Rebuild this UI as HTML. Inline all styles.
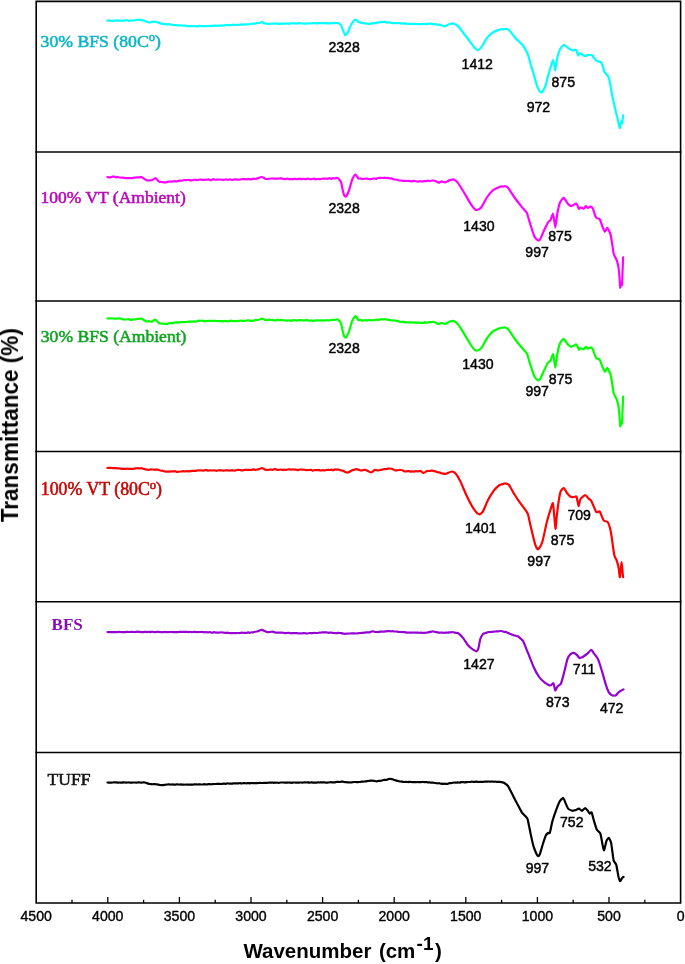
<!DOCTYPE html>
<html><head><meta charset="utf-8"><title>FTIR</title>
<style>
html,body{margin:0;padding:0;background:#fff;}
body{width:685px;height:964px;overflow:hidden;font-family:"Liberation Sans",sans-serif;}
svg{display:block;}
.pk{font-family:"Liberation Sans",sans-serif;font-size:14.1px;fill:#000;text-anchor:middle;stroke:#000;stroke-width:0.45px;}
.tk{font-family:"Liberation Sans",sans-serif;font-size:14.1px;fill:#000;text-anchor:middle;stroke:#000;stroke-width:0.4px;}
.sr{font-family:"Liberation Serif",serif;}
.ax{font-family:"Liberation Sans",sans-serif;font-weight:bold;fill:#000;}
</style></head><body>
<svg width="685" height="964" viewBox="0 0 685 964">
<rect x="0" y="0" width="685" height="964" fill="#ffffff"/>

<g stroke="#000" stroke-width="1.6" fill="none" stroke-linecap="square">
<path d="M36.2,1.4 H680.6 V903.0 H36.2 Z"/>
<path d="M36.2,152.0 H680.6"/>
<path d="M36.2,301.0 H680.6"/>
<path d="M36.2,451.5 H680.6"/>
<path d="M36.2,601.8 H680.6"/>
<path d="M36.2,752.5 H680.6"/>
</g>
<g stroke="#000" stroke-width="1.3" fill="none">
<path d="M644.8,903.0 V899.8"/>
<path d="M609.0,903.0 V897.0"/>
<path d="M573.2,903.0 V899.8"/>
<path d="M537.4,903.0 V897.0"/>
<path d="M501.6,903.0 V899.8"/>
<path d="M465.8,903.0 V897.0"/>
<path d="M430.0,903.0 V899.8"/>
<path d="M394.2,903.0 V897.0"/>
<path d="M358.4,903.0 V899.8"/>
<path d="M322.6,903.0 V897.0"/>
<path d="M286.8,903.0 V899.8"/>
<path d="M251.0,903.0 V897.0"/>
<path d="M215.2,903.0 V899.8"/>
<path d="M179.4,903.0 V897.0"/>
<path d="M143.6,903.0 V899.8"/>
<path d="M107.8,903.0 V897.0"/>
<path d="M72.0,903.0 V899.8"/>
</g>
<g opacity="0.999">
<text class="tk" x="680.6" y="921.3">0</text>
<text class="tk" x="609.0" y="921.3">500</text>
<text class="tk" x="537.4" y="921.3">1000</text>
<text class="tk" x="465.8" y="921.3">1500</text>
<text class="tk" x="394.2" y="921.3">2000</text>
<text class="tk" x="322.6" y="921.3">2500</text>
<text class="tk" x="251.0" y="921.3">3000</text>
<text class="tk" x="179.4" y="921.3">3500</text>
<text class="tk" x="107.8" y="921.3">4000</text>
<text class="tk" x="36.2" y="921.3">4500</text>
<path d="M107.4,20.7C107.6,20.7 108.9,20.4 109.2,20.4C109.5,20.4 110.7,20.9 111.0,20.9C111.3,21.0 112.5,20.9 112.8,20.8C113.1,20.8 114.3,20.5 114.6,20.5C114.9,20.5 116.1,20.6 116.4,20.6C116.7,20.6 117.9,20.6 118.2,20.6C118.5,20.6 119.7,20.6 120.0,20.6C120.3,20.6 121.5,20.7 121.8,20.7C122.1,20.7 123.2,20.8 123.6,20.8C123.9,20.7 125.0,20.3 125.4,20.3C125.7,20.2 126.8,20.2 127.1,20.2C127.5,20.3 128.6,20.7 128.9,20.8C129.3,20.8 130.4,20.5 130.7,20.5C131.0,20.4 132.2,20.5 132.5,20.5C132.8,20.5 134.0,20.6 134.4,20.5C134.7,20.4 135.9,19.8 136.2,19.8C136.6,19.7 137.8,19.9 138.1,19.9C138.5,19.9 139.7,19.7 140.0,19.7C140.3,19.7 141.4,20.2 141.7,20.3C142.0,20.4 143.0,20.3 143.3,20.4C143.6,20.4 144.7,20.9 145.0,21.0C145.3,21.1 146.4,21.7 146.7,21.8C147.0,21.9 148.0,22.2 148.3,22.3C148.6,22.3 149.7,22.5 150.0,22.5C150.3,22.5 151.5,22.0 151.8,21.9C152.2,21.8 153.3,21.7 153.7,21.6C154.0,21.6 155.1,21.6 155.5,21.7C155.9,21.8 157.3,22.3 157.8,22.5C158.2,22.6 159.6,23.1 160.0,23.2C160.4,23.3 161.4,23.8 161.7,23.8C162.0,23.9 163.0,23.8 163.3,23.8C163.6,23.8 164.7,24.2 165.0,24.2C165.3,24.2 166.3,24.1 166.6,24.2C166.9,24.2 168.0,24.5 168.2,24.5C168.5,24.5 169.6,24.3 169.9,24.4C170.2,24.4 171.2,24.6 171.5,24.7C171.8,24.7 172.8,24.9 173.1,25.0C173.4,25.0 174.5,25.2 174.8,25.2C175.0,25.2 176.1,25.1 176.4,25.2C176.7,25.2 177.7,25.5 178.0,25.5C178.3,25.5 179.3,25.4 179.6,25.4C179.9,25.4 180.9,25.4 181.2,25.5C181.5,25.5 182.5,25.7 182.8,25.7C183.1,25.7 184.1,25.7 184.4,25.7C184.7,25.7 185.8,25.5 186.1,25.6C186.4,25.6 187.4,26.2 187.7,26.2C188.0,26.3 189.0,26.1 189.3,26.1C189.6,26.1 190.6,26.2 190.9,26.2C191.2,26.2 192.2,26.2 192.5,26.2C192.8,26.2 193.9,25.9 194.2,26.0C194.5,26.0 195.6,26.5 195.9,26.5C196.2,26.5 197.3,26.4 197.6,26.4C197.9,26.3 198.9,25.9 199.2,25.8C199.6,25.8 200.6,25.9 200.9,26.0C201.2,26.0 202.3,26.2 202.6,26.2C202.9,26.2 204.0,26.2 204.3,26.2C204.6,26.2 205.7,26.0 206.0,26.0C206.3,26.0 207.4,26.3 207.8,26.2C208.1,26.2 209.2,25.8 209.5,25.8C209.8,25.8 210.9,26.0 211.2,26.0C211.6,26.0 212.7,25.9 213.0,25.9C213.3,25.8 214.4,25.6 214.8,25.5C215.1,25.5 216.2,25.7 216.5,25.7C216.8,25.7 217.9,25.8 218.2,25.8C218.6,25.8 219.7,25.5 220.0,25.5C220.3,25.5 221.4,25.7 221.7,25.7C222.0,25.7 223.0,25.4 223.3,25.4C223.6,25.3 224.7,25.4 225.0,25.4C225.3,25.3 226.4,24.9 226.7,24.9C227.0,24.9 228.0,24.9 228.3,25.0C228.6,25.0 229.7,25.3 230.0,25.3C230.3,25.3 231.4,25.0 231.7,25.0C232.0,24.9 233.0,24.7 233.3,24.7C233.6,24.7 234.7,24.9 235.0,24.9C235.3,25.0 236.4,25.0 236.7,25.0C237.0,25.0 238.0,24.9 238.3,24.9C238.6,24.9 239.7,24.7 240.0,24.7C240.3,24.7 241.4,24.5 241.7,24.5C242.0,24.5 243.0,24.4 243.3,24.4C243.6,24.4 244.7,24.4 245.0,24.4C245.3,24.4 246.4,24.5 246.7,24.5C247.0,24.4 248.0,24.2 248.3,24.2C248.6,24.1 249.7,24.0 250.0,24.0C250.3,23.9 251.4,24.0 251.7,23.9C252.0,23.9 253.0,23.5 253.3,23.5C253.6,23.5 254.7,23.7 255.0,23.7C255.3,23.7 256.6,23.1 257.0,23.0C257.4,23.0 258.5,23.1 259.0,23.0C259.5,22.9 261.4,22.2 262.0,22.2C262.6,22.2 264.5,23.4 265.0,23.5C265.5,23.6 266.6,23.7 267.0,23.7C267.4,23.8 268.6,24.0 269.0,24.0C269.4,24.0 270.7,23.7 271.0,23.7C271.3,23.7 272.3,23.8 272.6,23.7C272.9,23.7 273.9,23.6 274.2,23.6C274.5,23.5 275.5,23.4 275.8,23.4C276.1,23.4 277.1,23.6 277.4,23.6C277.7,23.7 278.8,23.9 279.1,23.9C279.4,23.9 280.4,23.8 280.7,23.8C281.0,23.7 282.0,23.6 282.3,23.6C282.6,23.6 283.6,23.8 283.9,23.8C284.2,23.8 285.2,23.3 285.5,23.3C285.8,23.3 286.8,23.4 287.1,23.5C287.4,23.5 288.4,23.8 288.7,23.8C289.0,23.8 290.0,23.5 290.3,23.5C290.6,23.5 291.6,23.4 291.9,23.4C292.2,23.4 293.3,23.2 293.6,23.2C293.9,23.2 294.9,23.4 295.2,23.4C295.5,23.4 296.5,23.7 296.8,23.7C297.1,23.6 298.1,23.0 298.4,23.0C298.7,22.9 299.7,23.3 300.0,23.3C300.3,23.3 301.3,23.5 301.6,23.5C301.9,23.5 302.9,23.5 303.2,23.5C303.5,23.5 304.5,23.6 304.8,23.6C305.1,23.6 306.1,23.5 306.4,23.5C306.7,23.4 307.7,23.5 308.0,23.5C308.3,23.5 309.3,23.3 309.6,23.3C309.9,23.3 310.9,23.3 311.2,23.3C311.5,23.3 312.5,23.2 312.8,23.2C313.1,23.2 314.1,22.9 314.4,23.0C314.7,23.0 315.7,23.5 316.0,23.5C316.3,23.5 317.4,23.3 317.6,23.3C317.9,23.3 319.0,23.0 319.2,23.0C319.5,23.0 320.6,23.2 320.9,23.2C321.1,23.3 322.2,23.2 322.5,23.2C322.8,23.2 323.8,23.1 324.1,23.1C324.4,23.1 325.4,23.1 325.7,23.1C326.0,23.1 327.0,23.2 327.3,23.3C327.6,23.3 328.6,23.3 328.9,23.3C329.2,23.3 330.2,23.3 330.5,23.3C330.8,23.3 331.8,23.2 332.1,23.2C332.4,23.1 333.4,22.9 333.7,22.9C334.0,22.9 335.0,23.0 335.3,23.0C335.6,23.0 336.6,23.0 336.9,23.0C337.2,23.0 338.1,23.0 338.5,23.2C338.9,23.4 340.6,24.4 341.0,25.0C341.4,25.6 342.6,29.1 343.0,30.0C343.4,30.9 344.8,34.7 345.2,35.0C345.6,35.3 347.0,33.9 347.5,33.0C348.0,32.1 350.4,26.1 351.0,25.0C351.6,23.9 353.1,21.5 353.5,21.0C353.9,20.5 355.0,19.4 355.5,19.5C356.0,19.6 358.0,21.7 358.5,22.0C359.0,22.3 360.3,22.5 360.8,22.6C361.2,22.7 362.6,22.9 363.0,23.0C363.4,23.1 364.3,23.3 364.6,23.4C364.9,23.4 365.9,23.5 366.2,23.5C366.5,23.5 367.5,23.6 367.8,23.6C368.1,23.7 369.1,23.8 369.4,23.8C369.7,23.8 370.7,23.8 371.0,23.7C371.3,23.6 372.6,23.2 373.0,23.2C373.4,23.1 374.6,23.3 375.0,23.2C375.4,23.2 376.7,22.7 377.0,22.6C377.3,22.5 378.3,22.6 378.6,22.6C378.9,22.5 380.0,22.1 380.2,22.0C380.5,21.9 381.6,21.8 381.9,21.8C382.2,21.8 383.2,22.0 383.5,22.0C383.8,22.0 384.9,21.8 385.2,21.9C385.5,21.9 386.6,22.5 386.9,22.6C387.2,22.6 388.3,22.4 388.6,22.4C388.9,22.4 390.0,22.5 390.3,22.5C390.6,22.6 391.7,22.9 392.0,23.0C392.3,23.1 393.5,23.2 393.8,23.2C394.1,23.2 395.3,23.1 395.6,23.1C395.9,23.1 397.1,23.0 397.4,23.0C397.7,23.0 398.9,23.1 399.2,23.2C399.5,23.2 400.7,23.5 401.0,23.5C401.3,23.5 402.4,23.6 402.7,23.6C403.0,23.6 404.0,23.4 404.3,23.4C404.6,23.4 405.7,23.5 406.0,23.6C406.3,23.6 407.4,24.0 407.7,24.0C408.0,24.0 409.0,23.9 409.3,23.9C409.6,23.9 410.7,24.0 411.0,24.0C411.3,24.0 412.4,23.9 412.7,23.9C413.0,23.9 414.0,24.1 414.3,24.0C414.6,24.0 415.7,23.8 416.0,23.8C416.3,23.8 417.4,24.0 417.7,24.1C418.0,24.1 419.0,24.1 419.3,24.1C419.6,24.1 420.7,24.2 421.0,24.2C421.3,24.2 422.4,23.9 422.7,23.9C423.0,23.9 424.0,23.7 424.3,23.8C424.6,23.8 425.7,24.2 426.0,24.2C426.3,24.2 427.4,23.9 427.7,23.9C428.0,23.8 429.0,23.6 429.3,23.6C429.6,23.6 430.7,23.7 431.0,23.7C431.3,23.7 432.3,24.0 432.6,24.0C433.0,24.1 434.0,24.4 434.3,24.4C434.6,24.4 435.6,24.1 436.0,24.1C436.3,24.1 437.3,24.6 437.6,24.7C437.9,24.8 439.2,24.7 439.5,24.7C439.8,24.8 441.1,25.1 441.4,25.2C441.7,25.3 443.0,25.9 443.3,26.0C443.6,26.1 444.7,26.4 445.2,26.2C445.7,26.0 448.4,24.5 449.0,24.3C449.6,24.1 450.9,23.7 451.4,23.7C451.8,23.6 453.0,23.2 453.7,23.5C454.4,23.8 457.6,25.8 458.5,26.6C459.4,27.4 462.1,31.4 463.0,32.5C463.9,33.6 466.9,37.5 468.0,38.9C469.1,40.3 473.7,46.8 474.6,47.8C475.5,48.8 477.2,50.1 477.8,50.1C478.4,50.1 480.6,48.1 481.2,47.4C481.8,46.7 483.5,43.9 484.0,43.0C484.5,42.1 486.2,39.0 487.0,38.0C487.8,37.0 491.4,33.4 492.6,32.6C493.8,31.8 499.3,29.7 500.2,29.4C501.1,29.1 501.8,29.4 502.1,29.3C502.4,29.3 503.7,29.2 504.0,29.1C504.3,29.1 505.4,28.7 505.9,28.8C506.4,28.9 508.8,29.9 509.7,30.7C510.6,31.5 514.2,36.6 515.4,38.0C516.6,39.4 521.9,44.0 523.0,45.5C524.1,47.0 527.1,52.6 527.7,54.1C528.3,55.6 529.6,60.5 530.0,62.0C530.4,63.5 532.0,68.6 532.5,70.2C533.0,71.8 534.6,77.5 535.0,79.0C535.4,80.5 536.8,85.3 537.2,86.4C537.6,87.5 539.1,90.4 539.5,91.0C539.9,91.6 541.2,92.8 541.6,92.6C542.0,92.4 543.5,89.9 543.9,89.2C544.3,88.5 545.3,86.8 545.7,85.4C546.1,84.0 548.1,75.8 548.6,74.0C549.1,72.2 550.6,67.3 551.0,66.0C551.4,64.7 552.6,60.4 552.9,60.2C553.2,60.0 554.0,63.0 554.2,64.0C554.4,65.0 555.0,70.6 555.2,70.6C555.4,70.6 556.1,65.2 556.3,64.0C556.5,62.8 557.1,58.4 557.5,57.0C557.9,55.6 559.7,49.9 560.3,48.8C560.9,47.7 563.3,44.8 564.1,44.8C564.9,44.8 567.7,47.9 568.5,48.4C569.3,48.9 571.8,50.1 572.3,50.3C572.8,50.5 573.9,50.2 574.2,50.1C574.5,50.1 575.7,49.4 576.1,49.9C576.5,50.4 578.0,55.1 578.3,55.4C578.6,55.7 579.5,53.1 579.9,53.1C580.3,53.1 582.2,54.7 582.7,55.0C583.2,55.3 585.1,56.2 585.5,56.2C585.9,56.2 587.0,55.1 587.4,55.0C587.8,54.9 589.9,55.0 590.3,55.0C590.7,55.0 591.7,54.9 592.2,55.4C592.7,55.9 595.2,59.8 596.0,60.4C596.8,61.0 600.1,61.7 600.7,62.2C601.3,62.7 602.3,64.6 602.6,65.5C602.9,66.4 604.0,71.1 604.5,72.1C605.0,73.1 607.4,75.0 607.9,75.9C608.4,76.8 609.4,79.9 609.8,81.6C610.2,83.3 611.6,92.5 612.1,94.9C612.6,97.3 614.5,105.9 615.0,108.2C615.5,110.5 617.4,117.8 617.8,119.6C618.2,121.4 619.4,127.9 619.7,128.1C620.0,128.3 621.0,121.9 621.2,121.5C621.4,121.1 621.8,124.0 622.0,123.4C622.2,122.8 623.0,116.1 623.1,115.4" fill="none" stroke="#00ffff" stroke-width="2.2" stroke-linejoin="round" stroke-linecap="round"/>
<path d="M107.4,177.0C107.6,177.0 108.8,177.4 109.1,177.4C109.4,177.4 110.5,177.5 110.8,177.4C111.1,177.3 112.1,176.7 112.5,176.6C112.8,176.5 113.8,176.6 114.1,176.6C114.4,176.7 115.5,177.3 115.8,177.3C116.1,177.3 117.2,177.0 117.5,177.0C117.8,177.0 119.0,177.4 119.4,177.5C119.7,177.5 120.9,177.6 121.2,177.7C121.6,177.7 122.8,177.5 123.1,177.6C123.5,177.6 124.7,178.0 125.0,178.0C125.3,178.0 126.5,178.1 126.9,178.1C127.2,178.1 128.4,178.1 128.8,178.1C129.1,178.1 130.3,178.1 130.6,178.1C131.0,178.1 132.2,178.1 132.5,178.0C132.8,177.9 133.9,177.5 134.2,177.5C134.6,177.5 135.7,177.6 136.0,177.5C136.3,177.5 137.4,177.3 137.7,177.3C138.0,177.3 139.1,177.4 139.5,177.4C139.8,177.4 140.6,176.8 141.2,177.0C141.8,177.2 145.6,179.7 146.2,180.0C146.8,180.3 147.9,180.4 148.3,180.4C148.6,180.5 150.0,180.4 150.3,180.4C150.7,180.4 151.9,180.2 152.4,180.0C152.9,179.8 154.8,177.9 155.4,178.0C156.0,178.1 158.2,181.1 158.7,181.5C159.2,181.9 160.4,181.8 160.8,181.9C161.1,181.9 162.5,182.1 162.8,182.1C163.2,182.2 164.6,182.5 164.9,182.5C165.2,182.5 166.3,182.2 166.6,182.1C166.9,182.0 167.9,181.7 168.2,181.7C168.5,181.6 169.6,181.5 169.9,181.5C170.2,181.5 171.3,181.7 171.6,181.7C171.9,181.7 172.9,181.4 173.2,181.3C173.5,181.3 174.6,181.2 174.9,181.2C175.2,181.2 176.3,181.5 176.6,181.5C176.9,181.4 177.9,181.0 178.2,180.9C178.5,180.9 179.6,180.7 179.9,180.7C180.2,180.7 181.3,180.7 181.6,180.7C181.9,180.6 182.9,180.3 183.2,180.3C183.5,180.2 184.6,180.0 184.9,180.0C185.2,180.0 186.3,180.2 186.6,180.1C186.9,180.1 187.9,179.9 188.2,179.9C188.5,179.9 189.6,180.1 189.9,180.1C190.2,180.2 191.3,180.5 191.6,180.4C191.9,180.4 192.9,180.1 193.2,180.1C193.5,180.0 194.6,179.5 194.9,179.5C195.2,179.5 196.3,180.0 196.6,180.1C196.9,180.1 197.9,179.9 198.2,179.9C198.5,179.8 199.6,179.5 199.9,179.5C200.2,179.5 201.3,179.7 201.6,179.7C201.9,179.7 202.9,179.9 203.2,179.9C203.5,179.9 204.6,179.7 204.9,179.7C205.2,179.7 206.2,179.8 206.5,179.8C206.8,179.7 207.9,179.4 208.2,179.4C208.5,179.4 209.6,179.9 209.9,179.9C210.2,180.0 211.2,180.0 211.5,179.9C211.8,179.8 212.9,179.2 213.2,179.2C213.5,179.2 214.5,179.7 214.8,179.7C215.1,179.8 216.2,179.7 216.5,179.7C216.8,179.7 217.9,179.5 218.2,179.5C218.5,179.5 219.5,179.5 219.8,179.5C220.1,179.5 221.2,179.5 221.5,179.5C221.8,179.5 222.8,179.9 223.1,179.9C223.4,179.9 224.5,179.5 224.8,179.5C225.1,179.5 226.2,179.5 226.5,179.5C226.8,179.5 227.8,179.8 228.1,179.8C228.4,179.7 229.5,179.3 229.8,179.3C230.1,179.3 231.2,179.7 231.5,179.8C231.8,179.8 232.8,179.8 233.1,179.8C233.4,179.7 234.5,179.4 234.8,179.3C235.1,179.3 236.2,179.4 236.5,179.4C236.8,179.5 237.8,179.7 238.1,179.7C238.4,179.7 239.5,179.6 239.8,179.5C240.1,179.5 241.2,179.3 241.5,179.3C241.8,179.2 242.8,179.0 243.1,179.0C243.4,179.0 244.5,179.1 244.8,179.1C245.1,179.1 246.2,179.4 246.5,179.4C246.8,179.4 247.8,178.9 248.1,178.9C248.4,178.9 249.5,179.2 249.8,179.2C250.1,179.2 251.3,179.4 251.7,179.4C252.0,179.3 253.2,178.7 253.6,178.6C253.9,178.6 255.1,179.1 255.4,179.0C255.8,179.0 256.9,178.6 257.3,178.5C257.7,178.4 259.1,177.7 259.6,177.6C260.0,177.4 261.3,176.9 261.8,177.0C262.3,177.1 264.8,178.5 265.3,178.7C265.8,178.9 266.9,179.0 267.2,179.0C267.5,179.0 268.8,178.8 269.1,178.8C269.4,178.7 270.7,178.5 271.0,178.5C271.3,178.5 272.4,178.5 272.7,178.5C273.0,178.5 274.0,178.6 274.3,178.6C274.6,178.6 275.7,178.7 276.0,178.7C276.3,178.7 277.4,178.7 277.7,178.7C278.0,178.7 279.0,178.5 279.3,178.5C279.6,178.5 280.7,178.4 281.0,178.4C281.3,178.5 282.4,178.7 282.7,178.7C283.0,178.8 284.0,179.1 284.3,179.2C284.6,179.2 285.7,179.0 286.0,178.9C286.3,178.8 287.4,178.4 287.7,178.5C288.0,178.5 289.0,179.1 289.3,179.2C289.6,179.2 290.7,179.1 291.0,179.1C291.3,179.1 292.4,179.3 292.7,179.3C293.0,179.3 294.0,178.7 294.3,178.7C294.6,178.7 295.7,179.0 296.0,179.0C296.3,179.0 297.4,179.3 297.7,179.2C298.0,179.2 299.0,178.6 299.3,178.6C299.6,178.6 300.7,179.1 301.0,179.1C301.3,179.2 302.4,178.8 302.7,178.8C303.0,178.8 304.0,178.7 304.3,178.8C304.6,178.8 305.7,179.3 306.0,179.3C306.3,179.3 307.4,178.7 307.7,178.6C308.0,178.6 309.0,179.0 309.3,179.0C309.6,179.1 310.7,179.3 311.0,179.3C311.3,179.3 312.4,178.8 312.7,178.8C313.0,178.7 314.0,178.7 314.3,178.7C314.6,178.8 315.7,179.3 316.0,179.3C316.3,179.4 317.4,178.9 317.7,178.9C318.0,178.9 319.0,179.2 319.3,179.2C319.6,179.2 320.7,179.1 321.0,179.0C321.3,178.9 322.4,178.5 322.7,178.5C323.0,178.5 324.1,178.7 324.4,178.7C324.7,178.7 325.8,178.5 326.1,178.5C326.4,178.5 327.5,178.9 327.8,178.8C328.1,178.8 329.2,178.2 329.5,178.2C329.8,178.2 330.9,178.9 331.2,178.9C331.5,178.9 332.6,178.0 332.9,178.0C333.2,178.0 334.3,178.6 334.6,178.6C334.9,178.6 336.0,177.9 336.3,177.8C336.6,177.8 337.6,177.8 338.0,178.2C338.4,178.6 340.6,181.0 341.0,182.0C341.4,183.0 342.2,187.8 342.5,189.0C342.8,190.2 343.7,194.3 344.0,195.0C344.3,195.7 345.6,196.8 346.0,196.5C346.4,196.2 348.0,193.0 348.4,192.0C348.8,191.0 350.0,187.1 350.3,186.0C350.6,184.9 351.7,180.6 352.2,179.5C352.7,178.4 354.8,174.6 355.4,174.5C356.0,174.4 358.0,178.1 358.4,178.5C358.8,178.9 359.9,178.3 360.3,178.4C360.6,178.4 361.8,178.9 362.1,179.0C362.5,179.0 363.7,178.8 364.0,178.8C364.3,178.8 365.4,178.6 365.8,178.5C366.1,178.5 367.2,178.6 367.5,178.6C367.8,178.7 368.9,179.1 369.2,179.1C369.6,179.2 370.7,179.0 371.0,179.0C371.3,179.0 372.4,178.8 372.7,178.7C373.0,178.7 374.1,178.2 374.4,178.3C374.7,178.3 375.8,179.0 376.1,179.0C376.5,178.9 377.5,178.1 377.9,178.0C378.2,177.9 379.2,177.8 379.6,177.8C379.9,177.8 381.0,177.9 381.3,177.9C381.6,177.9 382.7,178.0 383.0,178.0C383.3,177.9 384.4,177.7 384.7,177.7C385.0,177.7 386.0,178.2 386.3,178.2C386.6,178.2 387.6,177.9 387.9,177.9C388.2,177.9 389.2,178.3 389.5,178.3C389.8,178.4 390.9,178.2 391.2,178.3C391.5,178.4 392.5,178.8 392.8,178.9C393.1,179.0 394.1,179.4 394.4,179.5C394.7,179.5 395.7,179.5 396.0,179.5C396.3,179.5 397.4,179.9 397.7,180.0C398.0,180.0 399.0,180.3 399.3,180.4C399.6,180.4 400.7,180.4 401.0,180.5C401.3,180.5 402.4,180.8 402.7,180.8C403.0,180.9 404.0,180.9 404.3,180.9C404.6,181.0 405.7,181.0 406.0,181.0C406.3,181.0 407.4,181.0 407.7,181.0C408.0,181.0 409.0,180.8 409.3,180.9C409.6,180.9 410.7,181.3 411.0,181.3C411.3,181.3 412.4,181.1 412.7,181.1C413.0,181.0 414.0,180.9 414.3,180.9C414.6,180.9 415.7,181.2 416.0,181.3C416.3,181.4 417.4,181.7 417.7,181.7C418.0,181.7 419.0,181.1 419.3,181.1C419.6,181.1 420.7,181.5 421.0,181.5C421.3,181.5 422.4,181.5 422.7,181.4C423.0,181.4 424.0,181.2 424.3,181.1C424.6,181.1 425.7,181.2 426.0,181.1C426.3,181.1 427.4,180.6 427.7,180.6C428.0,180.7 429.0,181.2 429.3,181.2C429.6,181.3 430.7,180.8 431.0,180.7C431.3,180.6 432.5,180.5 432.9,180.5C433.2,180.5 434.1,180.6 434.7,180.8C435.3,181.0 438.5,182.6 439.1,182.7C439.7,182.8 441.0,181.5 441.4,181.4C441.8,181.3 443.0,181.9 443.3,182.0C443.6,182.1 444.6,182.6 445.2,182.4C445.8,182.2 449.3,180.3 449.9,180.1C450.5,179.9 451.5,179.8 451.8,179.7C452.1,179.7 453.2,179.3 453.7,179.5C454.2,179.7 456.5,181.2 457.5,182.4C458.5,183.6 463.0,190.8 464.2,192.8C465.4,194.8 469.8,202.7 470.8,204.2C471.8,205.7 474.5,209.0 475.2,209.5C475.9,210.0 477.8,209.7 478.4,209.5C479.0,209.3 480.8,208.1 481.6,207.0C482.4,205.9 485.9,199.0 486.9,197.5C487.9,196.0 491.5,191.5 492.6,190.5C493.7,189.5 498.5,187.5 499.3,187.1C500.1,186.7 500.9,186.4 501.2,186.4C501.5,186.3 502.8,186.6 503.1,186.6C503.4,186.5 504.5,186.1 505.0,186.2C505.5,186.3 507.3,187.1 508.2,188.1C509.1,189.1 513.3,195.8 514.5,197.5C515.7,199.2 520.0,204.7 521.1,206.1C522.2,207.5 526.1,211.5 526.8,212.7C527.5,213.9 528.4,217.9 528.7,219.0C529.0,220.1 530.1,223.5 530.6,225.1C531.1,226.7 533.7,235.1 534.4,236.5C535.1,237.9 537.3,240.0 537.8,240.3C538.3,240.6 539.5,240.2 540.1,239.3C540.7,238.4 543.2,232.4 543.9,230.8C544.6,229.2 547.5,223.2 548.1,222.2C548.7,221.2 550.0,221.1 550.4,220.3C550.8,219.5 552.6,213.5 552.9,213.5C553.2,213.5 554.0,218.7 554.2,220.0C554.4,221.3 555.1,227.5 555.3,227.5C555.5,227.5 556.2,221.4 556.4,220.0C556.6,218.6 557.2,214.3 557.5,212.7C557.8,211.1 559.4,203.9 560.0,202.5C560.6,201.1 563.0,197.8 563.7,197.9C564.4,198.0 566.8,202.4 567.5,203.2C568.2,204.0 570.5,206.1 571.3,206.1C572.1,206.1 575.7,203.3 576.4,203.6C577.1,203.9 578.5,208.6 578.9,208.9C579.3,209.2 580.4,207.4 580.8,207.4C581.2,207.4 583.2,208.7 583.7,208.6C584.2,208.5 585.5,206.2 585.9,206.1C586.3,206.0 587.4,207.9 587.8,208.0C588.2,208.1 589.8,206.6 590.3,206.7C590.8,206.8 592.3,207.6 592.8,208.6C593.3,209.6 595.4,216.5 596.0,217.5C596.6,218.5 599.2,218.5 599.8,219.4C600.4,220.3 602.1,225.9 602.6,227.0C603.1,228.1 604.5,231.6 604.9,231.7C605.3,231.8 606.9,227.6 607.4,227.9C607.9,228.2 610.2,233.1 610.6,234.6C611.0,236.1 611.9,242.3 612.2,244.0C612.5,245.7 613.2,252.0 613.6,253.5C614.0,255.0 616.4,259.1 616.9,260.6C617.4,262.1 618.6,268.0 618.8,269.7C619.0,271.4 619.5,277.4 619.6,279.0C619.7,280.6 620.2,287.3 620.3,287.7C620.4,288.1 621.0,283.3 621.2,283.0C621.4,282.7 621.9,286.1 622.0,284.9C622.1,283.7 622.5,272.5 622.6,270.0C622.7,267.5 623.1,258.5 623.1,257.3" fill="none" stroke="#ff00ff" stroke-width="2.2" stroke-linejoin="round" stroke-linecap="round"/>
<path d="M107.4,318.5C107.6,318.5 108.8,318.3 109.1,318.3C109.4,318.3 110.5,318.5 110.8,318.5C111.1,318.5 112.1,318.4 112.5,318.4C112.8,318.4 113.8,318.6 114.1,318.6C114.4,318.6 115.5,318.6 115.8,318.6C116.1,318.6 117.2,318.5 117.5,318.5C117.8,318.5 119.0,318.4 119.4,318.4C119.7,318.4 120.9,318.5 121.2,318.6C121.6,318.7 122.8,319.4 123.1,319.5C123.5,319.6 124.7,319.5 125.0,319.5C125.3,319.4 126.5,319.3 126.9,319.3C127.2,319.2 128.4,319.2 128.8,319.2C129.1,319.3 130.3,319.9 130.6,319.9C131.0,319.9 132.2,319.5 132.5,319.5C132.8,319.4 133.9,319.3 134.2,319.3C134.6,319.2 135.7,319.4 136.0,319.4C136.3,319.3 137.4,318.9 137.7,318.9C138.0,318.8 139.1,318.9 139.5,318.8C139.8,318.8 140.6,318.3 141.2,318.5C141.8,318.7 145.6,321.2 146.2,321.4C146.8,321.7 147.9,321.1 148.3,321.1C148.6,321.1 150.0,321.5 150.3,321.5C150.7,321.6 151.9,321.6 152.4,321.4C152.9,321.2 154.8,319.3 155.4,319.5C156.0,319.6 158.2,322.5 158.7,322.9C159.2,323.3 160.4,323.5 160.8,323.5C161.1,323.6 162.5,323.5 162.8,323.6C163.2,323.6 164.6,323.8 164.9,323.9C165.2,323.9 166.3,323.9 166.6,323.9C166.9,323.9 167.9,323.7 168.2,323.6C168.5,323.5 169.6,322.9 169.9,322.9C170.2,322.9 171.3,323.3 171.6,323.3C171.9,323.3 172.9,323.0 173.2,323.0C173.5,322.9 174.6,322.6 174.9,322.5C175.2,322.4 176.3,322.1 176.6,322.1C176.9,322.1 177.9,322.6 178.2,322.6C178.5,322.6 179.6,322.2 179.9,322.1C180.2,322.0 181.3,322.0 181.6,322.0C181.9,322.0 182.9,322.1 183.2,322.1C183.5,322.1 184.6,322.2 184.9,322.1C185.2,322.1 186.3,321.9 186.6,321.9C186.9,321.9 187.9,322.0 188.2,322.0C188.5,321.9 189.6,321.5 189.9,321.4C190.2,321.4 191.3,321.7 191.6,321.7C191.9,321.7 192.9,321.3 193.2,321.3C193.5,321.3 194.6,321.6 194.9,321.6C195.2,321.6 196.3,321.5 196.6,321.5C196.9,321.4 197.9,320.7 198.2,320.7C198.5,320.6 199.6,320.9 199.9,320.9C200.2,320.9 201.3,320.6 201.6,320.6C201.9,320.6 202.9,320.6 203.2,320.7C203.5,320.8 204.6,321.3 204.9,321.3C205.2,321.4 206.2,320.9 206.5,320.9C206.8,320.9 207.9,321.1 208.2,321.0C208.5,321.0 209.6,320.8 209.9,320.8C210.2,320.8 211.2,320.9 211.5,320.9C211.8,320.9 212.9,320.8 213.2,320.8C213.5,320.8 214.5,320.8 214.8,320.8C215.1,320.8 216.2,321.0 216.5,321.0C216.8,321.0 217.9,321.0 218.2,321.0C218.5,321.0 219.5,321.3 219.8,321.3C220.1,321.3 221.2,321.1 221.5,321.1C221.8,321.1 222.8,321.3 223.1,321.3C223.4,321.3 224.5,320.9 224.8,320.9C225.1,320.9 226.2,321.2 226.5,321.2C226.8,321.3 227.8,321.3 228.1,321.3C228.4,321.3 229.5,321.1 229.8,321.0C230.1,321.0 231.2,320.6 231.5,320.6C231.8,320.6 232.8,321.1 233.1,321.2C233.4,321.2 234.5,321.2 234.8,321.2C235.1,321.2 236.2,321.2 236.5,321.2C236.8,321.1 237.8,320.9 238.1,320.8C238.4,320.8 239.5,321.0 239.8,320.9C240.1,320.9 241.2,320.5 241.5,320.5C241.8,320.5 242.8,321.0 243.1,321.0C243.4,321.0 244.5,320.8 244.8,320.8C245.1,320.7 246.2,320.5 246.5,320.5C246.8,320.4 247.8,320.3 248.1,320.3C248.4,320.3 249.5,320.6 249.8,320.6C250.1,320.7 251.3,320.8 251.7,320.8C252.0,320.8 253.2,320.8 253.6,320.7C253.9,320.6 255.1,319.8 255.4,319.8C255.8,319.7 256.9,320.0 257.3,320.0C257.7,319.9 259.1,319.6 259.6,319.5C260.0,319.4 261.3,318.4 261.8,318.5C262.3,318.6 264.8,320.0 265.3,320.2C265.8,320.3 266.9,320.1 267.2,320.0C267.5,320.0 268.8,319.7 269.1,319.7C269.4,319.7 270.7,320.0 271.0,320.0C271.3,320.0 272.4,319.8 272.7,319.8C273.0,319.8 274.0,320.2 274.3,320.3C274.6,320.3 275.7,320.4 276.0,320.4C276.3,320.3 277.4,319.7 277.7,319.7C278.0,319.7 279.0,320.2 279.3,320.2C279.6,320.2 280.7,319.7 281.0,319.8C281.3,319.8 282.4,320.4 282.7,320.4C283.0,320.4 284.0,320.1 284.3,320.1C284.6,320.1 285.7,320.5 286.0,320.6C286.3,320.6 287.4,320.7 287.7,320.7C288.0,320.7 289.0,320.3 289.3,320.3C289.6,320.3 290.7,320.8 291.0,320.8C291.3,320.8 292.4,320.3 292.7,320.2C293.0,320.1 294.0,320.0 294.3,320.0C294.6,320.1 295.7,320.4 296.0,320.4C296.3,320.5 297.4,320.6 297.7,320.5C298.0,320.5 299.0,320.1 299.3,320.0C299.6,320.0 300.7,320.2 301.0,320.2C301.3,320.2 302.4,320.3 302.7,320.4C303.0,320.4 304.0,320.6 304.3,320.5C304.6,320.5 305.7,320.2 306.0,320.1C306.3,320.1 307.4,320.0 307.7,320.0C308.0,320.1 309.0,320.7 309.3,320.8C309.6,320.8 310.7,320.3 311.0,320.3C311.3,320.3 312.4,320.8 312.7,320.9C313.0,320.9 314.0,320.8 314.3,320.8C314.6,320.7 315.7,320.4 316.0,320.3C316.3,320.3 317.4,320.4 317.7,320.4C318.0,320.4 319.0,320.5 319.3,320.5C319.6,320.5 320.7,320.4 321.0,320.4C321.3,320.5 322.4,320.5 322.7,320.5C323.0,320.5 324.1,320.4 324.4,320.4C324.7,320.4 325.8,320.3 326.1,320.3C326.4,320.3 327.5,320.2 327.8,320.2C328.1,320.3 329.2,320.5 329.5,320.4C329.8,320.4 330.9,320.0 331.2,320.0C331.5,319.9 332.6,319.8 332.9,319.8C333.2,319.8 334.3,320.0 334.6,320.0C334.9,320.0 336.0,319.5 336.3,319.5C336.6,319.5 337.6,319.3 338.0,319.7C338.4,320.0 340.6,322.4 341.0,323.4C341.4,324.3 342.2,329.0 342.5,330.2C342.8,331.3 343.7,335.4 344.0,336.0C344.3,336.7 345.6,337.8 346.0,337.5C346.4,337.2 348.0,334.0 348.4,333.1C348.8,332.2 350.0,328.4 350.3,327.3C350.6,326.1 351.7,322.0 352.2,320.9C352.7,319.9 354.8,316.2 355.4,316.1C356.0,316.0 358.0,319.6 358.4,320.0C358.8,320.3 359.9,319.8 360.3,319.9C360.6,319.9 361.8,320.5 362.1,320.6C362.5,320.6 363.7,320.3 364.0,320.3C364.3,320.2 365.4,320.3 365.8,320.3C366.1,320.3 367.2,320.4 367.5,320.4C367.8,320.4 368.9,320.0 369.2,320.0C369.6,320.0 370.7,320.4 371.0,320.4C371.3,320.5 372.4,320.2 372.7,320.2C373.0,320.2 374.1,320.3 374.4,320.2C374.7,320.1 375.8,319.6 376.1,319.6C376.5,319.5 377.5,319.9 377.9,319.9C378.2,319.9 379.2,319.8 379.6,319.8C379.9,319.7 381.0,319.1 381.3,319.1C381.6,319.1 382.7,319.4 383.0,319.5C383.3,319.5 384.4,319.2 384.7,319.2C385.0,319.2 386.0,319.3 386.3,319.4C386.6,319.5 387.6,319.8 387.9,319.8C388.2,319.9 389.2,319.8 389.5,319.8C389.8,319.9 390.9,320.3 391.2,320.4C391.5,320.4 392.5,320.7 392.8,320.6C393.1,320.6 394.1,320.2 394.4,320.3C394.7,320.3 395.7,320.9 396.0,320.9C396.3,321.0 397.4,320.7 397.7,320.8C398.0,320.9 399.0,321.5 399.3,321.6C399.6,321.7 400.7,322.1 401.0,322.1C401.3,322.1 402.4,321.7 402.7,321.7C403.0,321.7 404.0,322.0 404.3,322.1C404.6,322.2 405.7,322.4 406.0,322.4C406.3,322.4 407.4,322.5 407.7,322.5C408.0,322.5 409.0,322.4 409.3,322.3C409.6,322.3 410.7,322.4 411.0,322.4C411.3,322.4 412.4,322.4 412.7,322.4C413.0,322.5 414.0,322.5 414.3,322.6C414.6,322.6 415.7,322.8 416.0,322.8C416.3,322.8 417.4,322.6 417.7,322.6C418.0,322.6 419.0,322.7 419.3,322.7C419.6,322.7 420.7,322.9 421.0,322.9C421.3,322.9 422.4,323.1 422.7,323.0C423.0,322.9 424.0,322.2 424.3,322.2C424.6,322.2 425.7,322.5 426.0,322.6C426.3,322.6 427.4,322.6 427.7,322.6C428.0,322.5 429.0,322.1 429.3,322.1C429.6,322.0 430.7,322.1 431.0,322.1C431.3,322.1 432.5,321.9 432.9,321.9C433.2,321.9 434.1,322.0 434.7,322.2C435.3,322.4 438.5,324.0 439.1,324.1C439.7,324.1 441.0,322.8 441.4,322.8C441.8,322.7 443.0,323.4 443.3,323.5C443.6,323.6 444.6,323.9 445.2,323.8C445.8,323.6 449.3,321.8 449.9,321.5C450.5,321.3 451.5,321.1 451.8,321.0C452.1,320.9 453.2,320.7 453.7,320.9C454.2,321.2 456.5,322.6 457.5,323.8C458.5,324.9 463.0,331.9 464.2,333.9C465.4,335.8 469.8,343.5 470.8,345.0C471.8,346.5 474.5,349.7 475.2,350.2C475.9,350.6 477.8,350.4 478.4,350.2C479.0,349.9 480.8,348.8 481.6,347.7C482.4,346.6 485.9,339.9 486.9,338.5C487.9,337.0 491.5,332.6 492.6,331.6C493.7,330.7 498.5,328.7 499.3,328.3C500.1,328.0 500.9,327.8 501.2,327.8C501.5,327.7 502.8,327.7 503.1,327.7C503.4,327.7 504.5,327.3 505.0,327.5C505.5,327.6 507.3,328.3 508.2,329.3C509.1,330.3 513.3,336.9 514.5,338.5C515.7,340.1 520.0,345.5 521.1,346.8C522.2,348.2 526.1,352.1 526.8,353.3C527.5,354.4 528.4,358.3 528.7,359.4C529.0,360.5 530.1,363.8 530.6,365.3C531.1,366.9 533.7,375.1 534.4,376.5C535.1,377.8 537.3,379.9 537.8,380.2C538.3,380.4 539.5,380.0 540.1,379.2C540.7,378.3 543.2,372.4 543.9,370.9C544.6,369.4 547.5,363.5 548.1,362.5C548.7,361.6 550.0,361.5 550.4,360.7C550.8,359.9 552.6,354.1 552.9,354.1C553.2,354.0 554.0,359.1 554.2,360.4C554.4,361.6 555.1,367.7 555.3,367.7C555.5,367.7 556.2,361.7 556.4,360.4C556.6,359.1 557.2,354.8 557.5,353.3C557.8,351.7 559.4,344.7 560.0,343.3C560.6,342.0 563.0,338.8 563.7,338.9C564.4,338.9 566.8,343.3 567.5,344.0C568.2,344.8 570.5,346.8 571.3,346.8C572.1,346.9 575.7,344.2 576.4,344.4C577.1,344.7 578.5,349.2 578.9,349.6C579.3,349.9 580.4,348.1 580.8,348.1C581.2,348.1 583.2,349.4 583.7,349.3C584.2,349.2 585.5,346.9 585.9,346.8C586.3,346.8 587.4,348.6 587.8,348.7C588.2,348.7 589.8,347.4 590.3,347.4C590.8,347.5 592.3,348.3 592.8,349.3C593.3,350.2 595.4,357.0 596.0,357.9C596.6,358.9 599.2,358.9 599.8,359.8C600.4,360.6 602.1,366.1 602.6,367.2C603.1,368.3 604.5,371.7 604.9,371.8C605.3,371.9 606.9,367.8 607.4,368.1C607.9,368.3 610.2,373.2 610.6,374.6C611.0,376.0 611.9,382.1 612.2,383.8C612.5,385.4 613.2,391.5 613.6,393.0C614.0,394.5 616.4,398.5 616.9,399.9C617.4,401.4 618.6,407.1 618.8,408.8C619.0,410.4 619.5,416.2 619.6,417.8C619.7,419.5 620.2,426.0 620.3,426.3C620.4,426.7 621.0,422.0 621.2,421.7C621.4,421.5 621.9,424.8 622.0,423.6C622.1,422.4 622.5,411.5 622.6,409.1C622.7,406.6 623.1,397.8 623.1,396.7" fill="none" stroke="#00ff00" stroke-width="2.2" stroke-linejoin="round" stroke-linecap="round"/>
<path d="M107.4,468.0C107.6,468.0 108.9,467.9 109.2,467.9C109.5,467.9 110.7,467.8 111.0,467.9C111.3,467.9 112.5,468.1 112.8,468.1C113.1,468.2 114.3,468.1 114.6,468.0C114.9,468.0 116.1,468.0 116.4,468.1C116.7,468.1 117.9,468.3 118.2,468.4C118.5,468.4 119.7,468.5 120.0,468.5C120.3,468.5 121.5,468.8 121.8,468.9C122.1,468.9 123.2,468.8 123.6,468.9C123.9,468.9 125.0,468.9 125.4,468.9C125.7,468.9 126.8,468.6 127.1,468.6C127.5,468.6 128.6,468.9 128.9,468.9C129.3,468.9 130.4,468.8 130.7,468.8C131.0,468.8 132.2,469.0 132.5,469.0C132.8,469.0 133.9,468.6 134.2,468.6C134.6,468.5 135.7,468.4 136.0,468.3C136.3,468.3 137.4,468.2 137.7,468.2C138.0,468.2 139.1,468.5 139.5,468.5C139.8,468.5 140.9,468.0 141.2,468.0C141.5,468.0 142.9,468.7 143.3,468.8C143.6,468.9 145.0,469.3 145.3,469.3C145.7,469.4 147.1,469.7 147.4,469.7C147.7,469.7 148.8,469.9 149.1,469.9C149.4,469.9 150.4,469.5 150.7,469.4C151.0,469.4 152.1,469.4 152.4,469.5C152.7,469.5 153.8,469.6 154.1,469.7C154.4,469.7 155.4,469.7 155.7,469.7C156.0,469.7 157.1,469.4 157.4,469.5C157.7,469.6 158.9,470.1 159.3,470.2C159.6,470.4 160.8,470.7 161.2,470.8C161.5,470.8 162.7,470.6 163.0,470.7C163.4,470.8 164.6,471.4 164.9,471.5C165.2,471.6 166.3,471.6 166.6,471.6C166.9,471.6 167.9,471.6 168.2,471.6C168.5,471.6 169.6,471.5 169.9,471.5C170.2,471.5 171.3,471.3 171.6,471.3C171.9,471.3 172.9,471.5 173.2,471.5C173.5,471.5 174.6,471.2 174.9,471.2C175.2,471.2 176.3,471.8 176.6,471.8C176.9,471.9 177.9,471.8 178.2,471.8C178.5,471.7 179.6,471.5 179.9,471.5C180.2,471.5 181.3,471.5 181.6,471.5C181.9,471.4 182.9,471.2 183.2,471.2C183.5,471.2 184.6,471.5 184.9,471.5C185.2,471.5 186.3,471.2 186.6,471.2C186.9,471.2 187.9,471.3 188.2,471.4C188.5,471.4 189.6,471.3 189.9,471.2C190.2,471.2 191.3,471.0 191.6,470.9C191.9,470.9 192.9,470.8 193.2,470.8C193.5,470.8 194.6,470.8 194.9,470.8C195.2,470.8 196.3,470.7 196.6,470.6C196.9,470.6 197.9,470.4 198.2,470.3C198.5,470.3 199.6,470.5 199.9,470.5C200.2,470.5 201.3,470.3 201.6,470.4C201.9,470.4 202.9,470.7 203.2,470.7C203.5,470.7 204.6,470.2 204.9,470.2C205.2,470.1 206.2,470.1 206.5,470.2C206.8,470.2 207.9,470.6 208.2,470.6C208.5,470.6 209.6,470.4 209.9,470.3C210.2,470.3 211.2,470.5 211.5,470.5C211.8,470.5 212.9,470.5 213.2,470.5C213.5,470.5 214.5,470.4 214.8,470.4C215.1,470.4 216.2,470.9 216.5,470.8C216.8,470.8 217.9,470.3 218.2,470.3C218.5,470.2 219.5,470.4 219.8,470.4C220.1,470.4 221.2,470.3 221.5,470.3C221.8,470.3 222.8,470.6 223.1,470.6C223.4,470.6 224.5,470.5 224.8,470.5C225.1,470.5 226.2,470.3 226.5,470.3C226.8,470.3 227.8,470.3 228.1,470.3C228.4,470.4 229.5,470.6 229.8,470.6C230.1,470.6 231.2,470.3 231.5,470.2C231.8,470.2 232.8,470.3 233.1,470.4C233.4,470.4 234.5,470.6 234.8,470.6C235.1,470.5 236.2,470.0 236.5,470.0C236.8,469.9 237.8,469.9 238.1,469.9C238.4,469.9 239.5,470.0 239.8,470.0C240.1,470.0 241.2,470.3 241.5,470.4C241.8,470.4 242.8,470.3 243.1,470.2C243.4,470.2 244.5,469.9 244.8,469.9C245.1,469.9 246.2,470.0 246.5,469.9C246.8,469.9 247.8,469.8 248.1,469.8C248.4,469.8 249.5,470.0 249.8,470.0C250.1,470.0 251.3,469.9 251.7,469.8C252.0,469.8 253.2,469.4 253.6,469.4C253.9,469.4 255.1,469.8 255.4,469.8C255.8,469.8 256.9,469.6 257.3,469.5C257.7,469.4 259.1,469.2 259.6,469.0C260.0,468.9 261.3,467.9 261.8,468.0C262.3,468.1 264.8,469.5 265.3,469.7C265.8,469.9 266.9,469.9 267.2,470.0C267.5,470.0 268.8,469.8 269.1,469.7C269.4,469.7 270.7,469.5 271.0,469.5C271.3,469.5 272.4,469.9 272.7,469.8C273.0,469.8 274.0,469.2 274.3,469.2C274.6,469.1 275.7,469.3 276.0,469.4C276.3,469.5 277.4,469.8 277.7,469.9C278.0,469.9 279.0,469.8 279.3,469.8C279.6,469.7 280.7,469.5 281.0,469.5C281.3,469.5 282.4,469.9 282.7,469.9C283.0,469.9 284.0,469.7 284.3,469.7C284.6,469.7 285.7,469.9 286.0,469.8C286.3,469.8 287.4,469.5 287.7,469.5C288.0,469.5 289.0,469.4 289.3,469.4C289.6,469.4 290.7,469.6 291.0,469.6C291.3,469.6 292.4,469.4 292.7,469.4C293.0,469.4 294.0,469.6 294.3,469.6C294.6,469.6 295.7,469.7 296.0,469.7C296.3,469.7 297.4,470.1 297.7,470.1C298.0,470.1 299.0,469.7 299.3,469.7C299.6,469.6 300.7,469.5 301.0,469.5C301.3,469.5 302.4,469.6 302.7,469.6C303.0,469.6 304.0,469.7 304.3,469.7C304.6,469.8 305.7,470.2 306.0,470.2C306.3,470.2 307.4,470.0 307.7,470.0C308.0,470.0 309.0,470.0 309.3,470.0C309.6,470.0 310.7,469.8 311.0,469.9C311.3,470.0 312.4,470.5 312.7,470.6C313.0,470.6 314.0,470.3 314.3,470.2C314.6,470.2 315.7,470.1 316.0,470.1C316.3,470.1 317.4,470.1 317.7,470.1C318.0,470.1 319.0,470.1 319.3,470.1C319.6,470.2 320.7,470.5 321.0,470.5C321.3,470.5 322.4,470.2 322.7,470.2C323.1,470.2 324.2,470.4 324.5,470.4C324.8,470.4 325.9,470.0 326.2,470.0C326.5,469.9 327.6,469.8 328.0,469.8C328.3,469.8 329.4,470.0 329.7,470.0C330.0,470.0 331.1,469.7 331.4,469.7C331.8,469.7 332.9,470.2 333.2,470.1C333.5,470.1 334.6,469.5 334.9,469.4C335.2,469.4 336.3,469.6 336.7,469.6C337.0,469.6 338.1,469.4 338.4,469.5C338.7,469.6 339.8,470.1 340.1,470.2C340.4,470.3 341.4,470.4 341.7,470.4C342.0,470.5 343.0,470.8 343.4,471.0C343.8,471.2 345.2,472.0 345.6,472.1C346.1,472.2 347.3,472.7 347.9,472.5C348.5,472.3 351.5,470.5 352.1,470.2C352.7,469.9 353.9,469.8 354.2,469.7C354.6,469.6 356.0,469.2 356.4,469.2C356.8,469.2 358.2,469.6 358.6,469.7C359.1,469.8 360.5,470.4 360.9,470.5C361.3,470.6 362.3,470.3 362.6,470.3C362.9,470.2 363.9,469.9 364.2,469.8C364.5,469.8 365.3,469.8 365.9,470.0C366.5,470.2 370.1,472.5 370.9,472.5C371.7,472.5 374.1,470.2 374.6,470.0C375.1,469.8 376.1,470.1 376.5,470.2C376.8,470.2 378.0,470.5 378.3,470.5C378.6,470.5 379.7,469.9 380.0,469.9C380.3,469.8 381.3,470.0 381.6,469.9C381.9,469.8 383.0,469.3 383.3,469.2C383.6,469.1 385.0,469.2 385.4,469.2C385.8,469.2 387.1,468.8 387.5,468.7C387.9,468.7 389.2,468.5 389.6,468.5C390.0,468.5 391.3,468.7 391.7,468.8C392.0,468.9 393.4,469.5 393.7,469.7C394.1,469.8 395.5,470.5 395.8,470.5C396.1,470.5 397.2,470.2 397.5,470.2C397.8,470.1 398.8,470.0 399.1,470.0C399.4,469.9 400.5,470.0 400.8,470.0C401.1,470.0 402.2,470.2 402.5,470.3C402.8,470.4 403.8,471.1 404.1,471.3C404.4,471.4 405.5,471.5 405.8,471.5C406.1,471.5 407.2,471.2 407.5,471.2C407.8,471.2 408.8,471.0 409.1,471.1C409.4,471.1 410.5,471.6 410.8,471.6C411.1,471.7 412.2,471.3 412.5,471.3C412.8,471.3 413.8,471.6 414.1,471.6C414.4,471.5 415.5,471.1 415.8,471.1C416.1,471.1 417.2,471.4 417.5,471.4C417.8,471.4 418.8,471.2 419.1,471.2C419.4,471.1 420.4,470.8 420.8,471.0C421.2,471.2 422.7,473.0 423.3,473.0C423.9,473.0 426.5,471.2 427.0,471.0C427.5,470.8 428.4,471.1 428.7,471.0C429.0,471.0 430.0,470.9 430.3,470.8C430.6,470.8 431.7,470.5 432.0,470.5C432.3,470.5 433.5,471.0 433.9,471.1C434.2,471.2 435.4,471.3 435.7,471.4C436.1,471.5 437.3,472.2 437.6,472.3C437.9,472.4 439.0,472.3 439.3,472.4C439.6,472.5 440.7,473.1 441.0,473.2C441.3,473.3 442.4,473.4 442.7,473.5C443.0,473.5 444.1,473.8 444.4,473.8C444.7,473.8 445.4,474.0 446.1,473.8C446.8,473.6 450.9,471.5 451.8,471.5C452.7,471.5 454.8,472.5 455.6,473.4C456.4,474.3 459.4,479.3 460.4,481.4C461.4,483.5 465.8,494.0 467.0,496.5C468.2,499.0 472.7,507.4 473.7,508.9C474.7,510.4 476.8,512.8 477.4,513.3C477.9,513.8 479.2,514.5 479.7,514.4C480.2,514.3 482.0,513.0 482.8,511.7C483.6,510.4 486.9,502.2 487.9,500.3C488.9,498.4 492.6,492.3 493.6,490.9C494.6,489.5 498.6,485.8 499.3,485.2C500.0,484.6 500.9,484.6 501.2,484.5C501.5,484.3 502.8,484.1 503.1,484.0C503.4,483.9 504.5,483.2 505.0,483.3C505.5,483.4 508.0,483.9 508.8,484.8C509.6,485.7 512.6,491.4 513.5,492.8C514.4,494.2 517.3,498.9 518.3,500.3C519.3,501.7 523.0,506.7 523.9,507.9C524.8,509.1 527.2,512.4 527.7,513.6C528.2,514.8 529.3,520.0 529.6,521.5C529.9,523.0 531.0,527.7 531.5,529.8C532.0,531.9 534.7,543.1 535.3,544.9C535.9,546.7 537.4,549.1 537.8,549.3C538.2,549.5 539.6,547.6 540.1,546.8C540.6,546.0 542.2,542.4 542.8,540.2C543.4,538.0 545.9,525.9 546.6,523.1C547.3,520.3 549.8,511.6 550.4,509.8C551.0,508.0 552.6,502.7 552.9,503.2C553.2,503.7 554.0,512.7 554.2,515.0C554.4,517.3 555.3,528.6 555.5,528.8C555.7,529.0 556.5,519.1 556.7,517.0C556.9,514.9 557.7,508.3 558.0,506.0C558.3,503.7 560.0,493.4 560.5,491.8C561.0,490.2 563.1,487.8 563.7,488.0C564.3,488.2 566.8,492.9 567.5,493.7C568.2,494.5 570.8,496.8 571.3,497.1C571.8,497.4 572.7,497.1 573.0,497.1C573.3,497.1 574.4,496.9 574.7,496.8C575.0,496.7 576.1,496.1 576.4,496.5C576.7,496.9 577.3,500.1 577.5,501.0C577.7,501.9 578.3,505.9 578.5,506.0C578.7,506.1 579.4,502.7 579.6,502.0C579.8,501.3 580.3,499.0 580.8,498.4C581.3,497.8 584.5,495.2 585.2,495.2C585.9,495.2 587.9,497.9 588.4,498.4C588.9,498.9 590.5,499.5 591.2,500.7C591.9,501.9 595.4,510.7 596.0,511.7C596.6,512.7 597.6,511.9 597.9,511.9C598.2,511.9 599.3,510.9 599.8,511.7C600.3,512.5 602.9,519.3 603.6,520.3C604.3,521.3 607.3,521.2 607.9,522.2C608.5,523.2 610.2,528.8 610.6,530.7C611.0,532.6 612.2,540.7 612.5,543.0C612.8,545.3 614.0,553.7 614.4,555.4C614.8,557.1 616.5,559.9 616.9,561.1C617.3,562.3 618.5,567.2 618.8,568.7C619.1,570.2 619.5,577.1 619.7,577.2C619.9,577.3 620.5,571.4 620.7,570.0C620.9,568.6 621.4,562.0 621.6,562.0C621.8,562.0 622.3,568.6 622.4,570.0C622.5,571.4 623.0,576.5 623.1,577.2" fill="none" stroke="#ff0000" stroke-width="2.2" stroke-linejoin="round" stroke-linecap="round"/>
<path d="M107.5,632.0C107.6,632.0 108.8,632.1 109.1,632.1C109.4,632.1 110.4,632.1 110.7,632.1C111.0,632.1 112.0,632.1 112.3,632.1C112.6,632.2 113.6,632.2 113.9,632.2C114.2,632.2 115.2,632.1 115.5,632.1C115.8,632.1 116.8,632.2 117.1,632.2C117.4,632.2 118.5,631.8 118.8,631.8C119.0,631.7 120.1,631.9 120.4,632.0C120.7,632.0 121.7,632.2 122.0,632.2C122.3,632.2 123.3,632.1 123.6,632.1C123.9,632.1 124.9,632.2 125.2,632.2C125.5,632.2 126.5,631.8 126.8,631.8C127.1,631.8 128.1,632.0 128.4,632.0C128.7,632.0 129.7,632.0 130.0,632.0C130.3,632.0 131.4,631.9 131.7,631.9C132.0,631.9 133.0,632.0 133.3,632.0C133.6,632.0 134.7,632.1 135.0,632.0C135.3,632.0 136.4,631.8 136.7,631.8C137.0,631.7 138.0,631.8 138.3,631.9C138.6,631.9 139.7,631.9 140.0,631.9C140.3,631.9 141.4,632.2 141.7,632.2C142.0,632.2 143.0,632.2 143.3,632.1C143.6,632.1 144.7,631.8 145.0,631.8C145.3,631.8 146.4,632.1 146.7,632.1C147.0,632.1 148.0,631.8 148.3,631.8C148.6,631.8 149.7,632.1 150.0,632.1C150.3,632.1 151.4,631.8 151.7,631.8C152.0,631.8 153.0,631.7 153.3,631.8C153.6,631.8 154.7,632.2 155.0,632.2C155.3,632.2 156.4,631.9 156.7,631.9C157.0,631.8 158.0,631.8 158.3,631.9C158.6,631.9 159.7,632.0 160.0,632.0C160.3,632.0 161.3,632.2 161.6,632.2C161.9,632.3 162.9,632.2 163.2,632.2C163.5,632.2 164.5,631.9 164.8,631.9C165.1,631.9 166.1,632.2 166.4,632.2C166.7,632.2 167.7,632.0 168.0,632.0C168.3,632.0 169.3,632.1 169.6,632.1C169.9,632.1 170.9,631.8 171.2,631.9C171.5,631.9 172.5,632.2 172.8,632.2C173.1,632.2 174.1,632.1 174.4,632.1C174.7,632.1 175.7,632.2 176.0,632.2C176.3,632.2 177.3,632.2 177.6,632.2C177.9,632.2 178.9,631.9 179.2,631.9C179.5,631.9 180.5,631.9 180.8,631.9C181.1,631.9 182.1,631.8 182.4,631.8C182.7,631.8 183.7,631.8 184.0,631.8C184.3,631.8 185.3,631.8 185.6,631.8C185.9,631.8 186.9,631.9 187.2,631.9C187.5,631.9 188.5,632.1 188.8,632.1C189.1,632.0 190.1,631.7 190.4,631.8C190.7,631.8 191.7,632.1 192.0,632.1C192.3,632.1 193.3,631.9 193.6,631.9C193.9,631.9 194.9,631.9 195.2,631.9C195.5,631.9 196.5,632.2 196.8,632.2C197.1,632.2 198.1,632.0 198.4,632.0C198.7,632.0 199.7,632.0 200.0,632.0C200.3,632.0 201.3,631.9 201.6,632.0C201.9,632.0 202.9,632.1 203.2,632.1C203.5,632.1 204.5,632.3 204.8,632.3C205.1,632.2 206.1,632.0 206.4,632.0C206.7,632.0 207.7,632.5 208.0,632.5C208.3,632.5 209.3,632.1 209.6,632.1C209.9,632.1 210.9,632.4 211.2,632.5C211.5,632.5 212.5,632.6 212.8,632.6C213.1,632.5 214.1,632.2 214.4,632.2C214.7,632.2 215.8,632.6 216.0,632.6C216.3,632.7 217.4,632.5 217.7,632.5C217.9,632.5 219.0,632.6 219.3,632.6C219.5,632.6 220.6,632.4 220.9,632.4C221.2,632.4 222.2,632.5 222.5,632.5C222.8,632.5 223.8,632.5 224.1,632.6C224.4,632.6 225.4,633.0 225.7,633.0C226.0,633.0 227.0,632.7 227.3,632.7C227.6,632.7 228.6,633.0 228.9,633.0C229.2,633.1 230.2,633.1 230.5,633.2C230.8,633.2 231.8,633.2 232.1,633.2C232.4,633.2 233.4,633.0 233.7,633.0C234.0,633.0 235.0,633.1 235.3,633.1C235.6,633.1 236.6,633.0 236.9,633.0C237.2,633.0 238.2,633.0 238.5,633.0C238.8,633.0 239.8,633.1 240.1,633.0C240.4,633.0 241.4,632.7 241.7,632.6C242.0,632.6 243.1,632.9 243.3,632.9C243.6,632.9 244.7,632.9 245.0,632.9C245.2,632.9 246.3,632.9 246.6,632.8C246.9,632.8 247.9,632.4 248.2,632.4C248.5,632.4 249.5,632.8 249.8,632.8C250.1,632.7 251.1,632.3 251.4,632.3C251.7,632.2 252.7,632.4 253.0,632.4C253.3,632.4 254.4,631.9 254.8,631.8C255.1,631.7 256.2,631.5 256.5,631.5C256.8,631.4 258.0,631.2 258.3,631.1C258.6,631.0 259.7,630.4 260.0,630.3C260.4,630.2 261.2,629.7 261.8,629.9C262.4,630.1 266.5,631.8 267.1,632.0C267.7,632.2 268.5,632.1 268.9,632.1C269.2,632.1 270.3,631.9 270.6,631.8C271.0,631.8 272.1,631.7 272.4,631.7C272.7,631.7 273.9,632.0 274.2,632.1C274.5,632.2 275.7,632.7 276.0,632.7C276.3,632.7 277.4,632.7 277.7,632.6C278.0,632.6 279.0,632.6 279.3,632.6C279.6,632.6 280.7,632.6 281.0,632.6C281.3,632.6 282.4,632.6 282.7,632.7C283.0,632.7 284.0,632.9 284.3,633.0C284.6,633.0 285.7,633.2 286.0,633.2C286.3,633.2 287.4,632.8 287.7,632.8C288.0,632.8 289.0,632.7 289.3,632.8C289.6,632.8 290.7,633.3 291.0,633.3C291.3,633.3 292.4,633.1 292.7,633.1C293.0,633.1 294.0,633.1 294.3,633.1C294.6,633.1 295.7,633.0 296.0,633.0C296.3,633.1 297.4,633.2 297.7,633.3C298.0,633.3 299.0,633.4 299.3,633.4C299.6,633.4 300.7,633.3 301.0,633.3C301.3,633.2 302.4,633.3 302.7,633.3C303.0,633.3 304.0,633.1 304.3,633.1C304.6,633.1 305.7,633.4 306.0,633.4C306.3,633.4 307.3,633.6 307.6,633.5C307.9,633.5 308.9,633.0 309.2,633.0C309.5,632.9 310.5,633.1 310.8,633.1C311.1,633.1 312.1,633.2 312.4,633.2C312.7,633.2 313.7,632.8 314.0,632.8C314.3,632.7 315.3,632.9 315.6,633.0C315.9,633.0 316.9,633.0 317.2,633.0C317.5,633.0 318.5,632.8 318.8,632.7C319.1,632.7 320.1,632.8 320.4,632.7C320.7,632.7 321.7,632.3 322.0,632.3C322.3,632.3 323.3,632.4 323.6,632.4C323.9,632.4 324.9,632.4 325.2,632.4C325.5,632.4 326.5,632.3 326.8,632.4C327.1,632.4 328.1,632.7 328.4,632.8C328.7,632.8 329.7,632.6 330.0,632.6C330.3,632.5 331.4,632.7 331.6,632.7C331.9,632.7 333.0,633.0 333.3,633.0C333.5,633.1 334.6,633.0 334.9,633.0C335.2,633.0 336.2,633.2 336.5,633.1C336.8,633.1 337.8,633.0 338.1,632.9C338.4,632.9 339.4,633.0 339.7,633.0C340.0,633.0 341.0,633.1 341.3,633.1C341.6,633.1 342.7,633.5 343.1,633.6C343.4,633.6 344.5,633.8 344.8,633.8C345.1,633.8 346.2,633.7 346.6,633.7C346.9,633.7 348.0,633.5 348.4,633.5C348.7,633.5 349.8,633.5 350.1,633.5C350.5,633.5 351.6,633.3 351.9,633.3C352.2,633.3 353.3,633.3 353.7,633.3C354.0,633.3 355.1,633.5 355.4,633.5C355.8,633.5 356.9,633.5 357.2,633.4C357.6,633.4 358.7,633.1 359.0,633.1C359.3,633.1 360.4,633.1 360.8,633.0C361.1,633.0 362.2,632.9 362.5,632.9C362.9,632.8 364.0,632.7 364.3,632.7C364.6,632.6 365.7,632.5 366.1,632.4C366.4,632.4 367.5,632.4 367.8,632.4C368.2,632.4 369.2,632.5 369.6,632.4C370.0,632.3 372.0,631.4 372.4,631.3C372.8,631.2 374.1,631.7 374.5,631.8C374.9,631.9 376.2,632.0 376.6,632.0C377.0,632.0 378.0,632.1 378.4,632.0C378.7,632.0 379.8,631.7 380.1,631.6C380.5,631.6 381.6,631.7 381.9,631.7C382.2,631.7 383.4,631.6 383.7,631.6C384.0,631.5 385.1,631.4 385.5,631.4C385.8,631.4 386.9,631.3 387.2,631.2C387.6,631.2 388.7,631.0 389.0,631.0C389.3,631.0 390.4,631.3 390.8,631.3C391.1,631.3 392.2,631.2 392.5,631.2C392.8,631.2 393.9,631.5 394.3,631.5C394.6,631.6 395.7,631.4 396.0,631.5C396.4,631.5 397.5,631.7 397.8,631.7C398.1,631.8 399.2,632.0 399.5,632.0C399.9,632.0 401.0,632.0 401.3,632.0C401.6,632.0 402.8,632.2 403.1,632.2C403.4,632.2 404.5,632.1 404.9,632.1C405.2,632.2 406.3,632.5 406.6,632.6C407.0,632.6 408.1,632.5 408.4,632.5C408.8,632.5 409.9,632.6 410.2,632.6C410.5,632.6 411.7,632.7 412.0,632.7C412.3,632.7 413.4,632.5 413.8,632.5C414.1,632.5 415.2,632.7 415.5,632.7C415.8,632.7 416.9,632.6 417.2,632.6C417.6,632.6 418.7,632.8 419.0,632.8C419.3,632.8 420.4,632.7 420.8,632.7C421.1,632.7 422.2,632.8 422.5,632.9C422.8,632.9 423.9,632.8 424.2,632.8C424.6,632.8 425.7,632.7 426.0,632.7C426.3,632.7 427.4,632.6 427.8,632.5C428.1,632.4 429.2,632.0 429.6,631.9C429.9,631.9 431.0,631.8 431.3,631.7C431.7,631.7 432.7,631.3 433.1,631.3C433.5,631.3 434.9,631.9 435.4,632.0C435.8,632.1 437.2,632.3 437.6,632.4C438.0,632.5 439.2,632.6 439.5,632.6C439.8,632.6 441.1,632.5 441.4,632.5C441.7,632.5 443.0,632.8 443.3,632.8C443.6,632.8 444.9,632.7 445.2,632.7C445.5,632.7 446.8,632.7 447.1,632.7C447.4,632.7 448.7,632.5 449.0,632.4C449.3,632.4 450.6,632.5 450.9,632.4C451.2,632.4 452.5,632.0 452.8,632.0C453.1,632.0 454.4,632.6 454.7,632.7C455.0,632.7 456.3,632.8 456.6,632.9C456.9,632.9 457.9,632.8 458.5,633.3C459.1,633.8 462.3,637.0 463.2,638.1C464.1,639.2 467.1,644.3 468.0,645.3C468.9,646.3 471.9,648.9 472.7,649.4C473.5,649.9 476.0,651.4 476.5,651.3C477.0,651.2 478.1,649.6 478.4,648.5C478.7,647.4 479.9,640.3 480.3,639.0C480.7,637.7 482.7,634.4 483.1,633.9C483.5,633.4 484.7,633.4 485.0,633.3C485.3,633.1 486.6,632.6 486.9,632.5C487.2,632.3 488.5,632.0 488.8,632.0C489.1,632.0 490.1,632.0 490.4,632.0C490.7,632.0 491.8,632.0 492.1,631.9C492.4,631.9 493.4,631.6 493.7,631.6C494.0,631.5 495.0,631.5 495.3,631.5C495.6,631.5 496.6,631.4 496.9,631.4C497.2,631.4 498.3,631.3 498.6,631.3C498.9,631.2 499.9,631.0 500.2,631.0C500.5,631.0 501.8,631.1 502.1,631.2C502.4,631.2 503.7,631.7 504.0,631.8C504.3,631.9 505.2,631.7 505.9,632.0C506.6,632.3 510.9,634.3 511.6,634.6C512.3,634.9 513.0,635.0 513.3,635.1C513.6,635.2 514.6,635.6 515.0,635.6C515.3,635.7 516.3,635.9 516.6,636.0C516.9,636.1 517.7,636.0 518.3,636.5C518.9,637.0 522.1,639.5 523.0,640.9C523.9,642.3 526.7,650.0 527.7,652.3C528.7,654.6 532.4,664.2 533.4,666.5C534.4,668.8 538.1,675.5 539.1,677.0C540.1,678.5 543.8,681.9 544.8,682.7C545.8,683.5 549.7,685.5 550.5,685.5C551.3,685.5 553.0,683.1 553.4,683.2C553.8,683.3 554.2,686.3 554.4,687.0C554.6,687.7 555.0,690.6 555.3,690.6C555.6,690.6 557.0,687.1 557.5,686.5C558.0,685.9 560.3,684.7 560.9,683.6C561.5,682.5 563.1,676.4 563.7,674.1C564.3,671.8 566.9,660.7 567.5,658.9C568.1,657.1 569.8,654.8 570.4,654.2C571.0,653.7 573.2,652.8 573.8,652.9C574.4,653.0 576.5,654.6 577.0,655.1C577.5,655.6 579.1,657.8 579.5,658.0C579.9,658.2 580.8,657.7 581.1,657.6C581.4,657.5 582.1,657.4 582.7,657.0C583.3,656.6 586.6,654.3 587.4,653.6C588.2,652.9 590.6,649.8 591.2,649.8C591.8,649.8 593.5,652.8 594.1,653.6C594.7,654.4 597.2,657.4 597.9,658.9C598.6,660.4 601.0,668.0 601.7,670.3C602.4,672.6 604.9,681.6 605.5,683.6C606.1,685.6 608.1,691.0 608.7,692.1C609.3,693.2 611.6,695.1 612.1,695.4C612.6,695.7 613.7,695.5 614.0,695.5C614.3,695.5 615.5,695.7 615.9,695.4C616.3,695.1 618.1,692.7 618.8,692.1C619.5,691.5 623.1,689.6 623.5,689.3" fill="none" stroke="#9400d3" stroke-width="2.2" stroke-linejoin="round" stroke-linecap="round"/>
<path d="M107.5,782.5C107.7,782.5 108.9,782.6 109.2,782.6C109.6,782.6 110.7,782.6 111.0,782.6C111.3,782.6 112.4,782.5 112.8,782.5C113.1,782.5 114.2,782.4 114.5,782.4C114.8,782.4 115.9,782.3 116.2,782.3C116.6,782.3 117.7,782.5 118.0,782.6C118.3,782.6 119.4,782.5 119.8,782.5C120.1,782.5 121.2,782.6 121.5,782.6C121.8,782.6 122.9,782.5 123.2,782.4C123.6,782.4 124.7,782.5 125.0,782.5C125.3,782.5 126.4,782.6 126.7,782.6C127.0,782.6 128.0,782.4 128.3,782.4C128.6,782.4 129.7,782.6 130.0,782.6C130.3,782.6 131.4,782.6 131.7,782.6C132.0,782.6 133.0,782.5 133.3,782.5C133.6,782.5 134.7,782.5 135.0,782.5C135.3,782.5 136.4,782.6 136.7,782.6C137.0,782.6 138.0,782.4 138.3,782.4C138.6,782.4 139.7,782.5 140.0,782.5C140.3,782.5 141.4,782.6 141.7,782.6C142.0,782.6 143.0,782.4 143.3,782.4C143.6,782.4 144.7,782.4 145.0,782.5C145.3,782.6 146.4,783.0 146.7,783.1C147.0,783.2 148.0,783.5 148.3,783.6C148.6,783.7 149.7,783.9 150.0,784.0C150.3,784.1 151.6,784.2 152.0,784.2C152.4,784.3 153.6,784.1 154.0,784.1C154.4,784.1 155.7,784.3 156.0,784.3C156.3,784.3 157.3,784.3 157.6,784.4C157.9,784.4 159.0,784.8 159.2,784.9C159.5,784.9 160.6,785.1 160.9,785.1C161.2,785.1 162.2,785.2 162.5,785.2C162.8,785.2 163.9,785.0 164.2,784.9C164.5,784.9 165.5,784.6 165.8,784.6C166.1,784.5 167.2,784.5 167.5,784.5C167.8,784.5 168.9,784.4 169.2,784.4C169.5,784.4 170.5,784.6 170.8,784.6C171.2,784.6 172.2,784.4 172.5,784.4C172.8,784.4 173.9,784.7 174.2,784.7C174.5,784.7 175.6,784.6 175.9,784.5C176.2,784.5 177.2,784.4 177.6,784.4C177.9,784.4 178.9,784.6 179.2,784.6C179.5,784.6 180.6,784.4 180.9,784.4C181.2,784.5 182.3,784.7 182.6,784.7C182.9,784.7 183.9,784.7 184.2,784.7C184.6,784.6 185.6,784.5 185.9,784.5C186.2,784.5 187.3,784.6 187.6,784.6C187.9,784.6 189.0,784.6 189.3,784.6C189.6,784.6 190.6,784.6 190.9,784.6C191.3,784.6 192.3,784.7 192.6,784.7C192.9,784.7 194.0,784.3 194.3,784.3C194.6,784.3 195.7,784.4 196.0,784.4C196.3,784.5 197.3,784.5 197.7,784.5C198.0,784.5 199.0,784.4 199.3,784.4C199.6,784.4 200.7,784.5 201.0,784.5C201.3,784.5 202.3,784.5 202.6,784.5C202.9,784.5 204.0,784.2 204.3,784.2C204.6,784.2 205.6,784.5 205.9,784.5C206.2,784.5 207.2,784.3 207.5,784.3C207.8,784.3 208.9,784.1 209.2,784.1C209.5,784.1 210.5,784.3 210.8,784.3C211.1,784.2 212.1,784.1 212.4,784.1C212.7,784.0 213.8,784.0 214.1,784.0C214.4,784.0 215.4,784.0 215.7,784.0C216.0,784.0 217.0,783.9 217.3,783.8C217.6,783.8 218.7,783.8 219.0,783.8C219.3,783.8 220.3,784.0 220.6,784.0C220.9,784.0 221.9,783.9 222.2,783.9C222.5,783.9 223.6,783.6 223.9,783.6C224.2,783.6 225.2,783.8 225.5,783.8C225.8,783.8 226.8,783.5 227.1,783.5C227.4,783.4 228.5,783.5 228.8,783.5C229.1,783.6 230.1,783.7 230.4,783.7C230.7,783.7 231.7,783.6 232.0,783.6C232.3,783.5 233.4,783.4 233.7,783.4C234.0,783.4 235.0,783.4 235.3,783.4C235.6,783.4 236.6,783.3 236.9,783.3C237.2,783.3 238.2,783.3 238.5,783.3C238.8,783.3 239.8,783.1 240.1,783.2C240.4,783.2 241.4,783.5 241.7,783.5C242.0,783.5 243.0,783.1 243.3,783.1C243.6,783.0 244.6,783.2 244.9,783.2C245.2,783.2 246.2,783.3 246.5,783.3C246.8,783.3 247.8,783.1 248.1,783.1C248.4,783.1 249.4,783.3 249.7,783.3C250.0,783.3 251.1,783.0 251.3,783.0C251.6,783.0 252.7,783.2 253.0,783.2C253.2,783.3 254.3,783.2 254.6,783.2C254.8,783.2 255.9,783.1 256.2,783.1C256.5,783.0 257.5,783.1 257.8,783.1C258.1,783.1 259.1,782.9 259.4,782.9C259.7,782.9 260.7,783.0 261.0,783.0C261.3,783.0 262.3,783.0 262.6,783.0C262.9,783.0 263.9,782.9 264.2,782.8C264.5,782.8 265.5,782.8 265.8,782.8C266.1,782.8 267.1,782.9 267.4,782.8C267.7,782.8 268.7,782.7 269.0,782.7C269.3,782.7 270.3,782.7 270.6,782.7C270.9,782.7 271.9,782.5 272.2,782.5C272.5,782.5 273.6,782.8 273.9,782.8C274.2,782.8 275.2,782.6 275.5,782.6C275.8,782.6 276.8,782.6 277.1,782.7C277.4,782.7 278.5,782.8 278.8,782.8C279.1,782.8 280.1,782.6 280.4,782.5C280.7,782.5 281.7,782.5 282.0,782.5C282.3,782.5 283.3,782.5 283.6,782.5C283.9,782.5 285.0,782.7 285.3,782.7C285.6,782.7 286.6,782.6 286.9,782.6C287.2,782.6 288.2,782.5 288.5,782.5C288.8,782.5 289.9,782.6 290.2,782.6C290.5,782.6 291.5,782.8 291.8,782.8C292.1,782.8 293.1,782.5 293.4,782.5C293.7,782.5 294.8,782.5 295.1,782.5C295.4,782.6 296.4,782.7 296.7,782.7C297.0,782.7 298.0,782.6 298.3,782.6C298.6,782.6 299.7,782.5 300.0,782.5C300.3,782.5 301.3,782.5 301.6,782.5C301.9,782.6 302.9,782.6 303.2,782.5C303.5,782.5 304.5,782.4 304.8,782.4C305.1,782.4 306.2,782.5 306.5,782.5C306.8,782.5 307.8,782.4 308.1,782.4C308.4,782.5 309.4,782.6 309.7,782.6C310.0,782.6 311.1,782.4 311.4,782.4C311.7,782.4 312.7,782.5 313.0,782.6C313.3,782.6 314.3,782.7 314.6,782.7C314.9,782.7 316.0,782.7 316.3,782.7C316.6,782.6 317.6,782.4 317.9,782.4C318.2,782.4 319.2,782.5 319.5,782.5C319.8,782.5 320.9,782.4 321.2,782.4C321.5,782.4 322.5,782.4 322.8,782.4C323.1,782.4 324.1,782.4 324.4,782.4C324.7,782.5 325.7,782.5 326.0,782.6C326.3,782.6 327.4,782.6 327.7,782.6C328.0,782.6 329.0,782.4 329.3,782.3C329.6,782.3 330.6,782.2 330.9,782.2C331.2,782.2 332.3,782.4 332.6,782.4C332.9,782.4 333.9,782.4 334.2,782.4C334.5,782.4 335.6,782.1 336.0,782.0C336.3,782.0 337.4,781.9 337.8,781.9C338.1,781.9 339.2,782.0 339.5,782.0C339.9,782.0 341.0,781.7 341.3,781.7C341.6,781.7 342.7,781.7 343.1,781.7C343.4,781.8 344.5,782.1 344.9,782.1C345.2,782.2 346.3,782.1 346.6,782.2C347.0,782.2 348.1,782.4 348.4,782.4C348.7,782.4 349.8,782.5 350.2,782.5C350.5,782.5 351.6,782.5 351.9,782.4C352.3,782.4 353.4,782.1 353.7,782.0C354.0,782.0 355.1,782.0 355.5,782.0C355.8,782.0 356.9,782.2 357.2,782.2C357.6,782.2 358.7,782.0 359.0,782.0C359.3,782.0 360.4,781.9 360.8,781.8C361.1,781.8 362.2,781.6 362.5,781.6C362.8,781.5 363.9,781.5 364.3,781.5C364.6,781.5 365.7,781.4 366.0,781.3C366.4,781.3 367.5,781.0 367.8,781.0C368.1,780.9 369.2,780.8 369.5,780.8C369.9,780.8 371.0,780.6 371.3,780.6C371.6,780.6 372.7,780.6 373.1,780.7C373.4,780.7 374.5,781.0 374.8,781.0C375.2,781.1 376.3,781.3 376.6,781.3C376.9,781.3 378.0,780.9 378.4,780.9C378.7,780.8 379.8,780.8 380.1,780.8C380.4,780.8 381.6,780.6 381.9,780.5C382.2,780.4 383.3,780.1 383.6,780.0C384.0,780.0 385.1,779.9 385.4,779.9C385.7,779.9 386.8,779.7 387.2,779.6C387.5,779.5 388.6,779.1 388.9,779.0C389.3,778.9 390.4,778.8 390.7,778.8C391.0,778.8 392.1,779.1 392.5,779.2C392.8,779.3 393.9,779.8 394.2,780.0C394.6,780.1 395.7,780.3 396.0,780.4C396.4,780.5 397.5,780.9 397.8,781.0C398.1,781.1 399.2,781.4 399.6,781.4C399.9,781.5 401.0,781.5 401.4,781.6C401.7,781.6 402.8,781.8 403.1,781.8C403.5,781.9 404.6,782.0 404.9,782.0C405.2,782.0 406.2,781.8 406.5,781.9C406.8,781.9 407.8,782.1 408.1,782.1C408.4,782.1 409.5,781.8 409.8,781.8C410.1,781.8 411.1,782.0 411.4,782.0C411.7,782.1 412.7,782.2 413.0,782.2C413.3,782.2 414.3,782.2 414.6,782.2C414.9,782.2 416.0,782.2 416.3,782.2C416.6,782.1 417.6,782.0 417.9,782.0C418.2,782.0 419.2,782.1 419.5,782.1C419.8,782.1 420.8,782.1 421.1,782.1C421.4,782.1 422.5,781.8 422.8,781.9C423.1,781.9 424.1,782.2 424.4,782.2C424.7,782.2 425.7,782.0 426.0,782.0C426.3,782.0 427.4,782.3 427.7,782.3C428.0,782.4 429.0,782.3 429.3,782.3C429.6,782.4 430.7,782.6 431.0,782.7C431.3,782.7 432.3,782.7 432.6,782.7C432.9,782.7 434.0,782.8 434.3,782.8C434.6,782.9 435.6,783.2 435.9,783.2C436.2,783.2 437.3,783.3 437.6,783.3C437.9,783.3 439.0,783.2 439.3,783.2C439.6,783.3 440.7,783.6 441.0,783.7C441.3,783.7 442.4,783.8 442.7,783.9C443.0,783.9 444.1,783.7 444.4,783.7C444.7,783.7 445.8,783.9 446.1,783.9C446.4,783.9 447.5,783.8 447.8,783.8C448.1,783.7 449.1,783.2 449.5,783.1C449.8,783.1 450.8,783.2 451.1,783.1C451.4,783.1 452.5,782.8 452.8,782.7C453.1,782.6 454.2,782.5 454.5,782.5C454.8,782.5 455.9,782.7 456.2,782.7C456.5,782.7 457.6,782.5 457.9,782.4C458.2,782.4 459.2,782.6 459.6,782.6C459.9,782.5 460.9,782.2 461.2,782.1C461.6,782.1 462.6,782.1 462.9,782.1C463.2,782.1 464.3,782.3 464.6,782.3C464.9,782.3 466.0,782.2 466.3,782.1C466.6,782.1 467.7,782.0 468.0,782.0C468.3,782.0 469.4,782.0 469.7,782.0C470.0,782.0 471.1,781.8 471.4,781.7C471.8,781.7 472.8,781.8 473.2,781.8C473.5,781.8 474.6,781.8 474.9,781.8C475.2,781.8 476.3,781.6 476.6,781.6C476.9,781.7 478.0,782.0 478.3,782.0C478.6,782.0 479.7,781.9 480.0,781.9C480.3,781.8 481.4,781.9 481.7,781.9C482.1,781.9 483.1,781.8 483.5,781.8C483.8,781.7 484.9,781.6 485.2,781.6C485.5,781.6 486.6,781.6 486.9,781.6C487.2,781.6 488.2,781.4 488.5,781.5C488.8,781.5 489.9,781.7 490.2,781.7C490.5,781.8 491.5,781.5 491.8,781.5C492.1,781.5 493.1,781.7 493.4,781.7C493.7,781.8 494.7,781.7 495.0,781.7C495.3,781.7 496.4,781.8 496.7,781.8C497.0,781.8 498.0,781.8 498.3,781.8C498.6,781.8 499.9,781.9 500.2,781.9C500.5,782.0 501.8,782.2 502.1,782.2C502.4,782.3 503.5,782.4 504.0,782.7C504.5,783.0 507.1,784.9 507.8,785.8C508.5,786.7 510.8,791.3 511.6,792.8C512.4,794.3 515.4,800.5 516.4,802.3C517.4,804.1 521.1,811.4 522.0,812.7C522.9,814.0 525.3,815.9 525.8,816.5C526.3,817.1 527.3,817.8 527.7,819.4C528.1,821.0 530.1,831.2 530.6,833.6C531.1,836.0 532.9,844.1 533.4,845.9C533.9,847.7 535.9,852.6 536.3,853.5C536.7,854.4 537.5,855.9 537.8,856.0C538.1,856.1 539.2,855.6 539.7,854.5C540.2,853.4 542.3,845.7 542.9,844.0C543.5,842.3 545.3,836.5 545.8,835.5C546.3,834.5 547.6,833.3 548.0,833.0C548.4,832.7 549.5,833.8 549.9,832.7C550.3,831.6 551.8,823.4 552.4,821.3C553.0,819.2 555.5,811.8 556.2,809.9C556.9,808.0 559.3,802.1 559.9,801.0C560.5,799.9 562.7,797.9 563.2,798.1C563.7,798.3 565.2,802.2 565.6,803.2C566.0,804.2 567.5,807.9 568.1,808.6C568.7,809.3 571.7,810.6 572.3,810.8C572.9,811.0 573.9,810.4 574.2,810.4C574.5,810.3 575.7,810.1 576.1,809.9C576.5,809.7 578.4,808.5 578.9,808.6C579.4,808.7 581.5,810.9 582.1,810.8C582.7,810.7 584.7,808.0 585.2,808.0C585.7,808.0 587.4,810.3 587.8,810.8C588.2,811.3 589.4,813.6 589.7,813.7C590.0,813.8 591.2,811.7 591.6,812.4C592.0,813.1 593.6,819.7 594.1,821.3C594.6,822.9 596.3,828.7 596.9,829.8C597.5,830.9 599.9,832.2 600.4,833.6C600.9,835.0 602.3,843.5 602.6,845.0C602.9,846.5 603.8,850.6 604.1,850.3C604.4,850.0 606.0,842.3 606.4,841.2C606.8,840.1 608.3,837.6 608.7,837.8C609.1,838.0 610.8,841.0 611.2,843.1C611.6,845.2 613.1,858.2 613.6,860.2C614.1,862.2 615.9,863.5 616.3,864.9C616.7,866.3 617.9,873.9 618.2,875.4C618.5,876.9 619.8,880.8 620.1,881.1C620.4,881.4 621.7,878.6 622.0,878.2C622.3,877.8 623.4,877.0 623.5,876.9" fill="none" stroke="#000000" stroke-width="2.2" stroke-linejoin="round" stroke-linecap="round"/>
<text class="pk" x="344.1" y="51.9">2328</text>
<text class="pk" x="477.3" y="69.4">1412</text>
<text class="pk" x="538.4" y="112.1">972</text>
<text class="pk" x="563.3" y="86.8">875</text>
<text class="pk" x="344.1" y="213.3">2328</text>
<text class="pk" x="478.9" y="230.9">1430</text>
<text class="pk" x="537.1" y="257.1">997</text>
<text class="pk" x="560.0" y="241.2">875</text>
<text class="pk" x="344.1" y="352.8">2328</text>
<text class="pk" x="477.9" y="368.5">1430</text>
<text class="pk" x="537.2" y="396.0">997</text>
<text class="pk" x="560.6" y="383.9">875</text>
<text class="pk" x="480.8" y="533.1">1401</text>
<text class="pk" x="539.1" y="566.3">997</text>
<text class="pk" x="562.5" y="545.0">875</text>
<text class="pk" x="579.2" y="520.0">709</text>
<text class="pk" x="478.9" y="668.9">1427</text>
<text class="pk" x="557.8" y="706.9">873</text>
<text class="pk" x="584.1" y="673.7">711</text>
<text class="pk" x="611.7" y="712.6">472</text>
<text class="pk" x="537.4" y="873.0">997</text>
<text class="pk" x="571.8" y="827.1">752</text>
<text class="pk" x="599.9" y="870.7">532</text>
<text class="sr" x="40.6" y="46.7" font-size="17.7" fill="#0cb6c6" stroke="#0cb6c6" stroke-width="0.55" font-weight="normal">30% BFS (80C<tspan dy="-6.0" font-size="12.5">o</tspan><tspan dy="6.0">)</tspan></text>
<text class="sr" x="40.6" y="203.0" font-size="17.5" fill="#ba08ba" stroke="#ba08ba" stroke-width="0.55" font-weight="normal">100% VT (Ambient)</text>
<text class="sr" x="40.8" y="342.2" font-size="17.6" fill="#10a422" stroke="#10a422" stroke-width="0.55" font-weight="normal">30% BFS (Ambient)</text>
<text class="sr" x="40.8" y="494.9" font-size="17.8" fill="#c80606" stroke="#c80606" stroke-width="0.55" font-weight="normal">100% VT (80C<tspan dy="-6.0" font-size="12.5">o</tspan><tspan dy="6.0">)</tspan></text>
<text class="sr" x="51.6" y="630.2" font-size="17.0" fill="#860cb8" stroke="#860cb8" stroke-width="0.0" font-weight="bold">BFS</text>
<text class="sr" x="47.6" y="785.0" font-size="17.5" fill="#111111" stroke="#111111" stroke-width="0.55" font-weight="normal">TUFF</text>
<text class="ax" x="243.4" y="958.3" font-size="20.5">Wavenumber</text>
<text class="ax" x="378.9" y="958.3" font-size="20.5">(cm</text>
<text class="ax" x="416.6" y="949.8" font-size="19">-1</text>
<text class="ax" x="435.0" y="958.3" font-size="20.5">)</text>
<text class="ax" font-size="22.55" transform="translate(18.0,522.3) rotate(-90) scale(1,1.05)">Transmittance (%)</text>
</g>
</svg></body></html>
